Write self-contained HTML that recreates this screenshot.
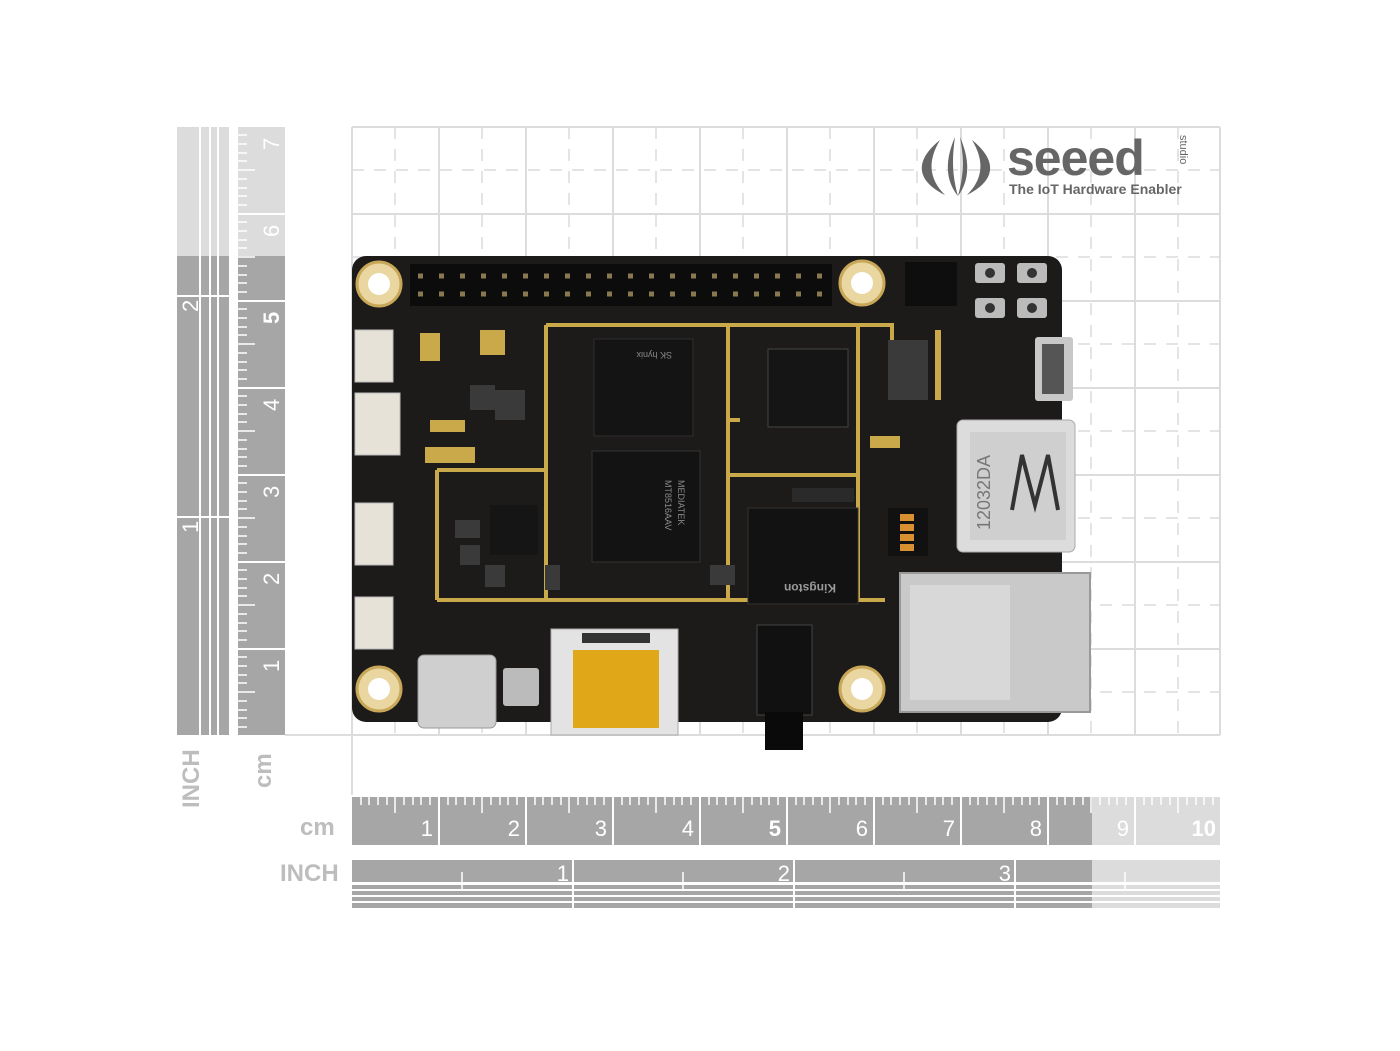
<!DOCTYPE html>
<html><head><style>
html,body{margin:0;padding:0;background:#fff;}
svg{display:block;font-family:"Liberation Sans",sans-serif;}
</style></head><body>
<svg width="1400" height="1051" viewBox="0 0 1400 1051" xmlns="http://www.w3.org/2000/svg">
<rect width="1400" height="1051" fill="#fff"/>
<g stroke="#dcdcdc" stroke-width="2" fill="none">
<path d="M352 127V735M439 127V735M526 127V735M613 127V735M700 127V735M787 127V735M874 127V735M961 127V735M1048 127V735M1135 127V735M1220 127V735"/>
<path d="M352 127H1220M352 214H1220M352 301H1220M352 388H1220M352 475H1220M352 562H1220M352 649H1220M352 735H1220"/>
</g>
<g stroke="#dcdcdc" stroke-width="1.5" fill="none" stroke-dasharray="12 10">
<path d="M395 127V735M482 127V735M569 127V735M656 127V735M743 127V735M830 127V735M917 127V735M1004 127V735M1091 127V735M1178 127V735"/>
<path d="M352 170H1220M352 257H1220M352 344H1220M352 431H1220M352 518H1220M352 605H1220M352 692H1220"/>
</g>
<line x1="352" y1="735" x2="352" y2="795" stroke="#ddd" stroke-width="2"/>
<line x1="285" y1="735" x2="352" y2="735" stroke="#ddd" stroke-width="2"/>
<g fill="#666">
<path d="M940 140 C915 160 915 180 945 195 C928 178 928 160 940 140Z"/>
<path d="M955 137 C945 160 945 180 958 196 C952 175 952 158 955 137Z"/>
<path d="M972 140 C997 160 997 180 967 195 C984 178 984 160 972 140Z"/>
<path d="M960 137 C970 160 970 180 958 196 C964 175 964 158 960 137Z"/>
</g>
<text x="1007" y="175" font-size="50" font-weight="bold" fill="#666" letter-spacing="-1">seeed</text>
<text x="1009" y="194" font-size="14" font-weight="bold" fill="#666">The IoT Hardware Enabler</text>
<text x="1180" y="135" font-size="11" fill="#666" transform="rotate(90 1180 135)">studio</text>
<rect x="177" y="127" width="52" height="129" fill="#dcdcdc"/>
<rect x="177" y="256" width="52" height="479" fill="#a6a6a6"/>
<rect x="237" y="127" width="48" height="129" fill="#dcdcdc"/>
<rect x="237" y="256" width="48" height="479" fill="#a6a6a6"/>
<g stroke="#fff" stroke-width="2">
<path d="M200 127V735M210 127V735M218 127V735M237 127V735"/>
<path d="M237 301H285M237 388H285M237 475H285M237 562H285M237 649H285M237 214H285"/>
<path d="M177 296H229M177 517H229"/>
</g>
<g stroke="#fff" stroke-width="1.5">
<path d="M237 135H247M237 144H247M237 153H247M237 161H247M237 170H255M237 179H247M237 188H247M237 196H247M237 205H247M237 222H247M237 231H247M237 240H247M237 248H247M237 257H255M237 266H247M237 275H247M237 283H247M237 292H247M237 309H247M237 318H247M237 327H247M237 335H247M237 344H255M237 353H247M237 362H247M237 370H247M237 379H247M237 396H247M237 405H247M237 414H247M237 422H247M237 431H255M237 440H247M237 449H247M237 457H247M237 466H247M237 483H247M237 492H247M237 501H247M237 509H247M237 518H255M237 527H247M237 536H247M237 544H247M237 553H247M237 570H247M237 579H247M237 588H247M237 596H247M237 605H255M237 614H247M237 623H247M237 631H247M237 640H247M237 657H247M237 666H247M237 675H247M237 683H247M237 692H255M237 701H247M237 710H247M237 718H247M237 727H247"/>
</g>
<g fill="#fff" font-size="22">
<text transform="translate(279 150) rotate(-90)">7</text>
<text transform="translate(279 237) rotate(-90)">6</text>
<text transform="translate(279 324) rotate(-90)" font-weight="bold">5</text>
<text transform="translate(279 411) rotate(-90)">4</text>
<text transform="translate(279 498) rotate(-90)">3</text>
<text transform="translate(279 585) rotate(-90)">2</text>
<text transform="translate(279 672) rotate(-90)">1</text>
<text transform="translate(198 312) rotate(-90)">2</text>
<text transform="translate(198 533) rotate(-90)">1</text>
</g>
<g fill="#bdbdbd" font-size="24" font-weight="bold">
<text transform="translate(199 808) rotate(-90)">INCH</text>
<text transform="translate(271 788) rotate(-90)">cm</text>
<text x="300" y="835">cm</text>
<text x="280" y="881">INCH</text>
</g>
<rect x="352" y="797" width="740" height="48" fill="#a6a6a6"/>
<rect x="1092" y="797" width="128" height="48" fill="#dcdcdc"/>
<g stroke="#fff" stroke-width="2"><path d="M439 797V845M526 797V845M613 797V845M700 797V845M787 797V845M874 797V845M961 797V845M1048 797V845M1135 797V845"/></g>
<g stroke="#fff" stroke-width="1.5">
<path d="M361 797V805M369 797V805M378 797V805M387 797V805M395 797V813M404 797V805M413 797V805M421 797V805M430 797V805M448 797V805M456 797V805M465 797V805M474 797V805M482 797V813M491 797V805M500 797V805M508 797V805M517 797V805M535 797V805M543 797V805M552 797V805M561 797V805M569 797V813M578 797V805M587 797V805M595 797V805M604 797V805M622 797V805M630 797V805M639 797V805M648 797V805M656 797V813M665 797V805M674 797V805M682 797V805M691 797V805M709 797V805M717 797V805M726 797V805M735 797V805M743 797V813M752 797V805M761 797V805M769 797V805M778 797V805M796 797V805M804 797V805M813 797V805M822 797V805M830 797V813M839 797V805M848 797V805M856 797V805M865 797V805M883 797V805M891 797V805M900 797V805M909 797V805M917 797V813M926 797V805M935 797V805M943 797V805M952 797V805M970 797V805M978 797V805M987 797V805M996 797V805M1004 797V813M1013 797V805M1022 797V805M1030 797V805M1039 797V805M1057 797V805M1065 797V805M1074 797V805M1083 797V805M1091 797V813M1100 797V805M1109 797V805M1117 797V805M1126 797V805M1144 797V805M1152 797V805M1161 797V805M1170 797V805M1178 797V813M1187 797V805M1196 797V805M1204 797V805M1213 797V805"/>
</g>
<g fill="#fff" font-size="22" text-anchor="end">
<text x="433" y="836">1</text><text x="520" y="836">2</text><text x="607" y="836">3</text><text x="694" y="836">4</text><text x="781" y="836" font-weight="bold">5</text><text x="868" y="836">6</text><text x="955" y="836">7</text><text x="1042" y="836">8</text><text x="1129" y="836">9</text><text x="1216" y="836" font-weight="bold">10</text>
</g>
<rect x="352" y="860" width="740" height="22" fill="#a6a6a6"/>
<rect x="1092" y="860" width="128" height="22" fill="#dcdcdc"/>
<rect x="352" y="885" width="740" height="23" fill="#a6a6a6"/>
<rect x="1092" y="885" width="128" height="23" fill="#dcdcdc"/>
<g stroke="#fff" stroke-width="2"><path d="M352 890H1220M352 896H1220M352 902H1220M573 860V908M794 860V908M1015 860V908"/></g>
<g stroke="#fff" stroke-width="1.5"><path d="M462 872V890M683 872V890M904 872V890M1125 872V890"/></g>
<g fill="#fff" font-size="22" text-anchor="end"><text x="569" y="881">1</text><text x="790" y="881">2</text><text x="1011" y="881">3</text></g>
<rect x="352" y="256" width="710" height="466" rx="14" fill="#1d1b19"/>
<g stroke="#c9a94a" stroke-width="4" fill="none">
<path d="M546 325H892V340M546 325V600M546 600H885M437 600H546M437 470V600M437 470H546M728 325V475H858V325M728 475V600M858 475V600M728 420H740"/>
</g>
<rect x="410" y="264" width="422" height="42" fill="#0c0c0c"/>
<g stroke="#8a7850" stroke-width="5" stroke-dasharray="5 16"><path d="M418 276H830M418 294H830"/></g>
<g fill="#e9d6a0" stroke="#c8a858" stroke-width="3">
<circle cx="379" cy="284" r="22"/><circle cx="862" cy="283" r="22"/><circle cx="379" cy="689" r="22"/><circle cx="862" cy="689" r="22"/>
</g>
<g fill="#fff"><circle cx="379" cy="284" r="11"/><circle cx="862" cy="283" r="11"/><circle cx="379" cy="689" r="11"/><circle cx="862" cy="689" r="11"/></g>
<rect x="594" y="339" width="99" height="97" fill="#141414" stroke="#2e2e2e"/>
<rect x="592" y="451" width="108" height="111" fill="#131313" stroke="#333"/>
<rect x="748" y="508" width="110" height="96" fill="#121212" stroke="#333"/>
<rect x="768" y="349" width="80" height="78" fill="#151515" stroke="#444"/>
<rect x="490" y="505" width="48" height="50" fill="#151515"/>
<rect x="792" y="488" width="62" height="14" fill="#2a2a2a"/>
<g fill="#8a8a8a" font-size="9">
<text transform="translate(612 352) rotate(180)" x="-60" y="0">SK hynix</text>
<text transform="translate(678 480) rotate(90)">MEDIATEK</text>
<text transform="translate(665 480) rotate(90)">MT8516AAV</text>
<text x="770" y="596" font-weight="bold" font-size="12" fill="#9a9a9a" transform="rotate(180 803 590)">Kingston</text>
</g>
<rect x="905" y="262" width="52" height="44" fill="#0e0e0e"/>
<g fill="#bbb"><rect x="975" y="263" width="30" height="20" rx="3"/><rect x="1017" y="263" width="30" height="20" rx="3"/><rect x="975" y="298" width="30" height="20" rx="3"/><rect x="1017" y="298" width="30" height="20" rx="3"/></g>
<g fill="#333"><circle cx="990" cy="273" r="5"/><circle cx="1032" cy="273" r="5"/><circle cx="990" cy="308" r="5"/><circle cx="1032" cy="308" r="5"/></g>
<rect x="1035" y="337" width="38" height="64" rx="3" fill="#c8c8c8"/>
<rect x="1042" y="344" width="22" height="50" fill="#555"/>
<g fill="#e6e2d8" stroke="#bbb">
<rect x="355" y="330" width="38" height="52"/><rect x="355" y="393" width="45" height="62"/><rect x="355" y="503" width="38" height="62"/><rect x="355" y="597" width="38" height="52"/>
</g>
<rect x="957" y="420" width="118" height="132" rx="6" fill="#dcdcdc" stroke="#aaa"/>
<rect x="970" y="432" width="96" height="108" fill="#cfcfcf"/>
<path d="M1012 510 L1022 455 L1035 505 L1048 455 L1058 510" stroke="#333" stroke-width="4" fill="none"/>
<text transform="translate(990 530) rotate(-90)" font-size="18" fill="#777">12032DA</text>
<rect x="888" y="508" width="40" height="48" fill="#111"/>
<g fill="#d89030"><rect x="900" y="514" width="14" height="7"/><rect x="900" y="524" width="14" height="7"/><rect x="900" y="534" width="14" height="7"/><rect x="900" y="544" width="14" height="7"/></g>
<rect x="900" y="573" width="190" height="139" fill="#c9c9c9" stroke="#999" stroke-width="2"/>
<rect x="910" y="585" width="100" height="115" fill="#d8d8d8"/>
<rect x="551" y="629" width="127" height="106" fill="#e3e3e3" stroke="#aaa"/>
<rect x="573" y="650" width="86" height="78" fill="#e0a818"/>
<rect x="582" y="633" width="68" height="10" fill="#333"/>
<rect x="418" y="655" width="78" height="73" rx="6" fill="#cfcfcf" stroke="#999"/>
<rect x="503" y="668" width="36" height="38" rx="3" fill="#bbb"/>
<rect x="757" y="625" width="55" height="90" fill="#111" stroke="#444"/>
<rect x="765" y="712" width="38" height="38" fill="#0a0a0a"/>
<g fill="#c9a94a">
<rect x="420" y="333" width="20" height="28"/><rect x="480" y="330" width="25" height="25"/><rect x="430" y="420" width="35" height="12"/><rect x="425" y="447" width="50" height="16"/><rect x="870" y="436" width="30" height="12"/><rect x="935" y="330" width="6" height="70"/>
</g>
<g fill="#3a3a3a">
<rect x="470" y="385" width="25" height="25"/><rect x="495" y="390" width="30" height="30"/><rect x="455" y="520" width="25" height="18"/><rect x="460" y="545" width="20" height="20"/><rect x="485" y="565" width="20" height="22"/><rect x="710" y="565" width="25" height="20"/><rect x="545" y="565" width="15" height="25"/><rect x="888" y="340" width="40" height="60"/>
</g>
</svg>
</body></html>
